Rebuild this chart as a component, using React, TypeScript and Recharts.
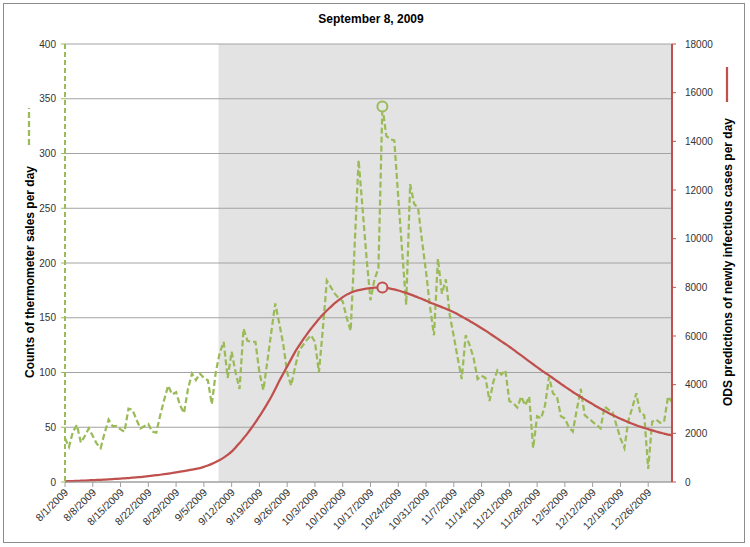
import React from 'react';
import { LineChart, Line, XAxis, YAxis, CartesianGrid, ReferenceArea } from 'recharts';

const tickLabels = [
  '8/1/2009', '8/8/2009', '8/15/2009', '8/22/2009', '8/29/2009', '9/5/2009', '9/12/2009',
  '9/19/2009', '9/26/2009', '10/3/2009', '10/10/2009', '10/17/2009', '10/24/2009', '10/31/2009',
  '11/7/2009', '11/14/2009', '11/21/2009', '11/28/2009', '12/5/2009', '12/12/2009', '12/19/2009',
  '12/26/2009',
];
const tickDays = [0, 7, 14, 21, 28, 35, 42, 49, 56, 63, 70, 77, 84, 91, 98, 105, 112, 119, 126, 133, 140, 147];

// thermometer sales per day, 8/1/2009 .. 1/1/2010
const salesPerDay = [
  40, 32, 46, 52, 36, 42, 49, 42, 35, 31,
  45, 57, 51, 51, 48, 46, 67, 66, 57, 49,
  51, 53, 46, 45, 61, 75, 88, 80, 82, 70,
  63, 85, 99, 93, 99, 95, 93, 71, 100, 118,
  128, 95, 119, 100, 85, 140, 129, 128, 128, 100,
  84, 110, 137, 163, 145, 126, 100, 88, 105, 120,
  125, 130, 134, 128, 100, 140, 184, 178, 172, 168,
  165, 150, 138, 215, 294, 250, 205, 166, 185, 195,
  343, 316, 313, 312, 260, 210, 162, 272, 254, 250,
  220, 192, 160, 134, 204, 172, 185, 152, 133, 113,
  94, 134, 125, 113, 94, 97, 95, 74, 92, 102,
  98, 102, 74, 72, 68, 78, 70, 78, 31, 60,
  58, 70, 96, 81, 78, 60, 58, 50, 46, 66,
  85, 61, 58, 55, 52, 49, 69, 66, 64, 52,
  40, 31, 56, 68, 81, 63, 61, 12, 55, 57,
  54, 55, 78, 73,
];

// ODS predictions of newly infectious cases per day
const odsPerDay = [
  30, 35, 40, 45, 52, 60, 68, 76, 84, 92,
  100, 110, 120, 130, 140, 150, 162, 175, 190, 205,
  220, 238, 258, 278, 298, 320, 345, 370, 395, 422,
  450, 478, 508, 538, 570, 620, 680, 745, 820, 905,
  1000, 1120, 1250, 1420, 1600, 1800, 2000, 2220, 2450, 2700,
  2950, 3220, 3500, 3820, 4150, 4450, 4750, 5050, 5350, 5600,
  5850, 6080, 6300, 6500, 6700, 6880, 7050, 7200, 7350, 7480,
  7600, 7700, 7780, 7840, 7885, 7920, 7950, 7970, 7985, 7990,
  7990, 7975, 7950, 7915, 7870, 7820, 7770, 7710, 7650, 7585,
  7520, 7450, 7380, 7315, 7250, 7185, 7120, 7050, 6980, 6890,
  6800, 6710, 6620, 6520, 6420, 6320, 6220, 6110, 6000, 5890,
  5780, 5670, 5560, 5440, 5320, 5200, 5080, 4960, 4840, 4720,
  4600, 4490, 4380, 4265, 4150, 4035, 3920, 3810, 3700, 3595,
  3490, 3395, 3300, 3200, 3100, 3010, 2920, 2835, 2750, 2675,
  2600, 2530, 2460, 2395, 2330, 2275, 2220, 2170, 2120, 2075,
  2030, 1990, 1950, 1920,
];

const leftTicks = [0, 50, 100, 150, 200, 250, 300, 350, 400];
const rightTicks = [0, 2000, 4000, 6000, 8000, 10000, 12000, 14000, 16000, 18000];
const shadeStartDay = 38.7;
const markerDay = 80;

const GREEN = '#9bbb59';
const RED = '#c0504d';
const FONT = '"Liberation Sans", Arial, sans-serif';

const rows = salesPerDay.map((s, i) => ({ day: i, sales: s, ods: odsPerDay[i] }));
const lastDay = rows.length - 1;

const XTick = (props: any) => {
  const { x, y, payload } = props;
  const idx = tickDays.indexOf(payload.value);
  const label = idx >= 0 ? tickLabels[idx] : '';
  const ax = x + 4;
  const ay = y + 4;
  return (
    <text x={ax} y={ay} textAnchor="end" fontSize={10.5} fill="#333" fontFamily={FONT}
      transform={`rotate(-45, ${ax}, ${ay})`}>
      {label}
    </text>
  );
};

const makeDot = (color: string) => (props: any) => {
  const { cx, cy, index } = props;
  if (index !== markerDay) return <g key={`dot-${index}`} />;
  return <circle key={`dot-${index}`} cx={cx} cy={cy} r={5} fill="#e4e4e4" stroke={color} strokeWidth={2} />;
};

export default function App() {
  return (
    <div style={{ position: 'absolute', left: 0, top: 0, width: 750, height: 547, background: '#fff', fontFamily: FONT }}>
      <div style={{ position: 'absolute', left: 3, top: 3, width: 742, height: 540, border: '1px solid #8c8c8c', boxSizing: 'border-box' }} />
      <LineChart width={750} height={547} data={rows} margin={{ top: 44, right: 0, bottom: 0, left: 0 }}>
        <ReferenceArea yAxisId="left" x1={shadeStartDay} x2={lastDay} y1={0} y2={400} fill="#e3e3e3" fillOpacity={1} stroke="none" zIndex={-200} />
        <CartesianGrid yAxisId="left" vertical={false} stroke="#a3a3a3" strokeWidth={1} />
        <XAxis dataKey="day" type="number" domain={[0, lastDay]} ticks={tickDays} interval={0}
          height={65} tick={<XTick />} tickSize={5} axisLine={{ stroke: '#a0a0a0' }} tickLine={{ stroke: '#a0a0a0' }} />
        <YAxis yAxisId="left" domain={[0, 400]} ticks={leftTicks} width={65} tickSize={4} tickMargin={5}
          axisLine={{ stroke: GREEN, strokeWidth: 2, strokeDasharray: '5 3' }} tickLine={{ stroke: GREEN }}
          tick={{ fontSize: 10, fill: '#333', fontFamily: FONT }} />
        <YAxis yAxisId="right" orientation="right" domain={[0, 18000]} ticks={rightTicks} width={78} tickSize={4} tickMargin={9}
          axisLine={{ stroke: RED, strokeWidth: 2 }} tickLine={{ stroke: RED }}
          tick={{ fontSize: 10, fill: '#333', fontFamily: FONT, textAnchor: 'start' }} />
        <Line yAxisId="left" type="linear" dataKey="sales" stroke={GREEN} strokeWidth={2.25} strokeDasharray="6 3"
          dot={makeDot(GREEN)} activeDot={false} isAnimationActive={false} />
        <Line yAxisId="right" type="monotone" dataKey="ods" stroke={RED} strokeWidth={2.25}
          dot={makeDot(RED)} activeDot={false} isAnimationActive={false} />
      </LineChart>
      <svg width={750} height={547} style={{ position: 'absolute', left: 0, top: 0, pointerEvents: 'none' }}>
        <text x={371} y={23} textAnchor="middle" fontSize={12} fontWeight="bold" fill="#000" fontFamily={FONT}>September 8, 2009</text>
        <text transform="translate(34, 272) rotate(-90)" textAnchor="middle" fontSize={12} fontWeight="bold" fill="#000" fontFamily={FONT}>
          Counts of thermometer sales per day
        </text>
        <line x1={29} y1={145} x2={29} y2={108} stroke={GREEN} strokeWidth={2.25} strokeDasharray="6 3" />
        <text transform="translate(732, 262) rotate(-90)" textAnchor="middle" fontSize={12} fontWeight="bold" fill="#000" fontFamily={FONT}>
          ODS predictions of newly infectious cases per day
        </text>
        <line x1={727} y1={102} x2={727} y2={67} stroke={RED} strokeWidth={2.25} />
      </svg>
    </div>
  );
}
